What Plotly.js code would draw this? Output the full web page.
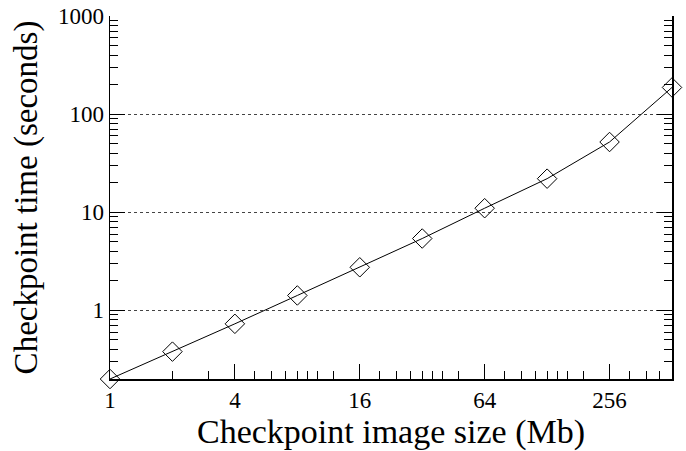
<!DOCTYPE html>
<html>
<head>
<meta charset="utf-8">
<script src="https://cdn.plot.ly/plotly-3.0.1.min.js"></script>
<style>html,body{margin:0;padding:0;background:#fff;}#chart{width:686px;height:451px;}</style>
</head>
<body>
<div id="chart"></div>
<script>
// Data
const imageSizeMb = [1, 2, 4, 8, 16, 32, 64, 128, 256, 512];
const checkpointTimeSec = [0.2, 0.38, 0.73, 1.42, 2.75, 5.4, 11, 22, 52, 187];

const xTickVals = [1, 4, 16, 64, 256];
const xTickText = ['1', '4', '16', '64', '256'];
const xMinorVals = [2, 3, 5, 6, 7, 8, 9, 10, 12, 20, 24, 28, 32, 36, 40, 48,
                    80, 96, 112, 128, 144, 160, 192, 320, 384, 448];
const yTickVals = [1, 10, 100, 1000];
const yTickText = ['1', '10', '100', '1000'];
const yMinorVals = [0.3, 0.4, 0.5, 0.6, 0.7, 0.8, 0.9,
                    2, 3, 4, 5, 6, 7, 8, 9,
                    20, 30, 40, 50, 60, 70, 80, 90,
                    200, 300, 400, 500, 600, 700, 800, 900];

const font = 'Liberation Serif, Times New Roman, serif';

const trace = {
  x: imageSizeMb,
  y: checkpointTimeSec,
  type: 'scatter',
  mode: 'lines+markers',
  line: {color: '#000', width: 1},
  marker: {symbol: 'diamond-open', size: 15, color: '#000', line: {width: 1, color: '#000'}},
  cliponaxis: false,
  showlegend: false
};

const layout = {
  width: 686, height: 451,
  margin: {l: 110, r: 14, t: 16, b: 72},
  paper_bgcolor: '#fff', plot_bgcolor: '#fff',
  font: {family: font, size: 23, color: '#000'},
  xaxis: {
    type: 'log',
    range: [0, Math.log10(512)],
    tickmode: 'array', tickvals: xTickVals, ticktext: xTickText,
    ticks: 'inside', ticklen: 15, tickwidth: 1, tickcolor: '#000',
    minor: {tickmode: 'array', tickvals: xMinorVals, ticks: 'inside', ticklen: 8, tickwidth: 1, tickcolor: '#000', showgrid: false},
    showgrid: false, zeroline: false,
    showline: true, linecolor: '#000', linewidth: 1.5, mirror: false,
    tickfont: {family: font, size: 23, color: '#000'},
    title: {text: 'Checkpoint image size (Mb)', font: {family: font, size: 34, color: '#000'}, standoff: 1}
  },
  yaxis: {
    type: 'log',
    range: [Math.log10(0.2), 3],
    tickmode: 'array', tickvals: yTickVals, ticktext: yTickText,
    ticks: 'inside', ticklen: 15, tickwidth: 1, tickcolor: '#000',
    minor: {tickmode: 'array', tickvals: yMinorVals, ticks: 'inside', ticklen: 8, tickwidth: 1, tickcolor: '#000', showgrid: false},
    showgrid: true, gridcolor: '#444', gridwidth: 1, griddash: 'dot',
    zeroline: false,
    showline: true, linecolor: '#000', linewidth: 1.5, mirror: 'ticks',
    tickfont: {family: font, size: 23, color: '#000'},
    title: {text: 'Checkpoint time (seconds)', font: {family: font, size: 33, color: '#000'}, standoff: 10}
  }
};

Plotly.newPlot('chart', [trace], layout, {displayModeBar: false, staticPlot: true});
</script>
</body>
</html>
